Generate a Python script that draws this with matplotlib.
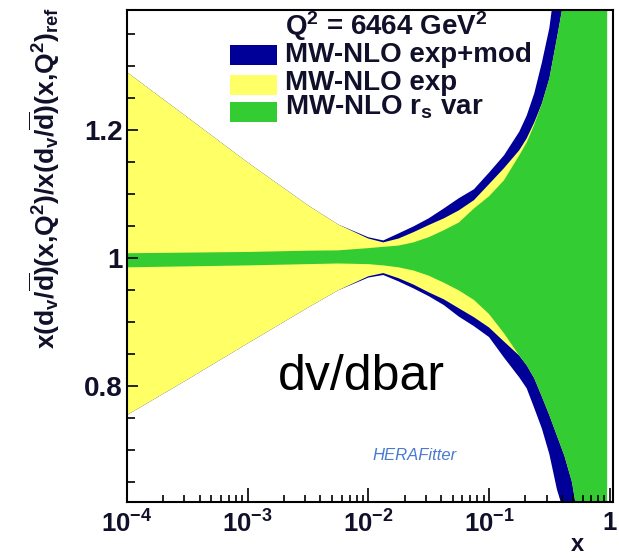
import matplotlib
matplotlib.use('Agg')
import matplotlib.pyplot as plt
from matplotlib.patches import Rectangle
from matplotlib.ticker import LogLocator, MultipleLocator, NullFormatter

plt.rcParams['font.family'] = ['Liberation Sans', 'DejaVu Sans']
plt.rcParams['mathtext.fontset'] = 'custom'
plt.rcParams['mathtext.rm'] = 'Liberation Sans:bold'
plt.rcParams['mathtext.it'] = 'Liberation Sans:bold'
plt.rcParams['mathtext.bf'] = 'Liberation Sans:bold'
plt.rcParams['mathtext.default'] = 'rm'

# x grid
x = [1e-4, 3.2e-4, 1e-3, 3.16e-3, 5.62e-3, 1e-2, 1.33e-2, 1.78e-2, 2.37e-2, 3.16e-2,
     4.22e-2, 5.62e-2, 7.5e-2, 0.1, 0.133, 0.178, 0.205, 0.237, 0.274, 0.316,
     0.365, 0.422, 0.487, 0.562, 0.75, 0.95]

# MW-NLO exp+mod (outer band)
mod_up = [1.291, 1.220, 1.150, 1.083, 1.053, 1.033, 1.028, 1.039, 1.050, 1.0625,
          1.078, 1.094, 1.108, 1.134, 1.161, 1.198, 1.223, 1.258, 1.306, 1.360,
          1.45, 1.55, 1.65, 1.75, 1.85, 1.95]
mod_lo = [0.755, 0.811, 0.867, 0.923, 0.950, 0.970, 0.974, 0.964, 0.953, 0.941,
          0.927, 0.909, 0.894, 0.877, 0.845, 0.814, 0.797, 0.766, 0.734, 0.694,
          0.639, 0.600, 0.55, 0.50, 0.45, 0.40]
# MW-NLO exp
exp_up = [1.291, 1.220, 1.150, 1.083, 1.053, 1.031, 1.025, 1.031, 1.041, 1.052,
          1.0625, 1.075, 1.091, 1.116, 1.141, 1.169, 1.1875, 1.2125, 1.242, 1.281,
          1.344, 1.41, 1.50, 1.60, 1.70, 1.80]
exp_lo = [0.755, 0.811, 0.867, 0.923, 0.950, 0.972, 0.977, 0.969, 0.959, 0.947,
          0.936, 0.922, 0.908, 0.892, 0.870, 0.848, 0.833, 0.8125, 0.784, 0.755,
          0.723, 0.691, 0.650, 0.58, 0.50, 0.45]
# MW-NLO rs var
rs_up = [1.008, 1.009, 1.010, 1.012, 1.0125, 1.016, 1.018, 1.020, 1.025, 1.033,
         1.044, 1.056, 1.078, 1.097, 1.122, 1.161, 1.181, 1.209, 1.242, 1.281,
         1.344, 1.41, 1.50, 1.60, 1.70, 1.80]
rs_lo = [0.986, 0.9875, 0.989, 0.991, 0.992, 0.991, 0.989, 0.986, 0.981, 0.973,
         0.962, 0.950, 0.935, 0.913, 0.883, 0.848, 0.833, 0.8125, 0.784, 0.755,
         0.723, 0.691, 0.650, 0.58, 0.50, 0.45]

xticks = [1e-4, 1e-3, 1e-2, 1e-1, 1]
xlabels = [r'10$^{-4}$', r'10$^{-3}$', r'10$^{-2}$', r'10$^{-1}$', '1']
yticks = [0.8, 1.0, 1.2]
ylabels = ['0.8', '1', '1.2']

c_mod, c_exp, c_rs = '#000099', '#ffff66', '#33cc33'
txt = '#10102a'

fig = plt.figure(figsize=(6.19, 5.58), dpi=100)
ax = fig.add_axes([0.205, 0.100, 0.785, 0.882])

ax.fill_between(x, mod_lo, mod_up, color=c_mod, lw=0)
ax.fill_between(x, exp_lo, exp_up, color=c_exp, lw=0)
ax.fill_between(x, rs_lo, rs_up, color=c_rs, lw=0)

ax.set_xscale('log')
ax.set_xlim(1e-4, 1.06)
ax.set_ylim(0.619, 1.388)

ax.set_xticks(xticks)
ax.set_xticklabels(xlabels)
ax.xaxis.set_minor_locator(LogLocator(base=10, subs=range(2, 10)))
ax.xaxis.set_minor_formatter(NullFormatter())
ax.set_yticks(yticks)
ax.set_yticklabels(ylabels)
ax.yaxis.set_minor_locator(MultipleLocator(0.05))

ax.tick_params(which='both', direction='in', top=False, right=False,
               labelcolor=txt, width=1.2)
ax.tick_params(axis='x', which='major', length=10, pad=6, labelsize=18.5)
ax.tick_params(axis='x', which='minor', length=5)
ax.tick_params(axis='y', which='major', length=8, pad=3, labelsize=20)
ax.tick_params(axis='y', which='minor', length=6)
for lab in ax.get_xticklabels() + ax.get_yticklabels():
    lab.set_fontweight('bold')
for s in ax.spines.values():
    s.set_linewidth(1.5)

ax.set_ylabel(r'x(d$_{v}$/$\overline{\mathrm{d}}$)(x,Q$^{2}$)/x(d$_{v}$/$\overline{\mathrm{d}}$)(x,Q$^{2}$)$_{ref}$',
              fontsize=19, fontweight='bold', color=txt, ha='right', va='center')
ax.yaxis.set_label_coords(-0.169, 1.006)
ax.set_xlabel('x', fontsize=17, fontweight='bold', color=txt, ha='center', va='center')
ax.xaxis.set_label_coords(0.928, -0.086)

# legend
ax.text(0.325, 0.949, r'Q$^{2}$ = 6464 GeV$^{2}$', transform=ax.transAxes,
        fontsize=20, fontweight='bold', color=txt, va='baseline')
entries = [(c_mod, 'MW-NLO exp+mod', 0.894, 0.888),
           (c_exp, 'MW-NLO exp', 0.837, 0.827),
           (c_rs, r'MW-NLO r$_{s}$ var', 0.787, 0.772)]
for col, lab, yb, yp in entries:
    ax.add_patch(Rectangle((0.212, yp), 0.097, 0.041, transform=ax.transAxes,
                           facecolor=col, edgecolor='none'))
    ax.text(0.325, yb, lab, transform=ax.transAxes, fontsize=20,
            fontweight='bold', color=txt, va='baseline')

ax.text(0.311, 0.228, 'dv/dbar', transform=ax.transAxes, fontsize=36,
        color='black', va='baseline')
ax.text(0.593, 0.0955, 'HERAFitter', transform=ax.transAxes, fontsize=12,
        style='italic', color='#4a7ad0', ha='center', va='center')

fig.savefig('out.png', dpi=100)
